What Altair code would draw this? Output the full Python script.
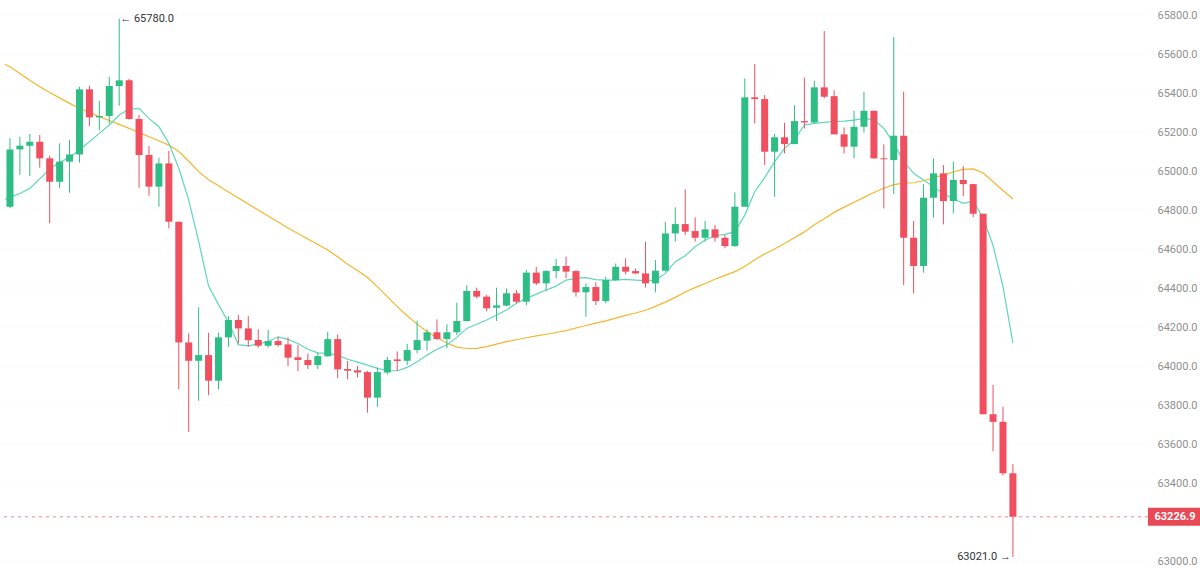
import altair as alt
import pandas as pd

opens = [64817, 65111, 65130, 65150, 65065, 64945, 65048, 65085, 65419, 65275,
         65282, 65436, 65465, 65267, 65082, 64920, 65039, 64740, 64121, 64027,
         64056, 63925, 64147, 64236, 64193, 64133, 64104, 64128, 64111, 64045,
         64031, 64005, 64050, 64138, 63985, 63978, 63969, 63838, 63967, 64034,
         64027, 64082, 64130, 64173, 64139, 64173, 64231, 64385, 64356, 64299,
         64310, 64373, 64330, 64479, 64424, 64487, 64513, 64487, 64378, 64405,
         64333, 64441, 64509, 64487, 64475, 64424, 64489, 64680, 64728, 64692,
         64658, 64701, 64658, 64615, 64817, 65378, 65369, 65099, 65173, 65138,
         65256, 65249, 65429, 65384, 65188, 65125, 65227, 65309, 65065, 65056,
         65181, 64658, 64513, 64863, 64988, 64846, 64954, 64933, 64781, 63753,
         63714, 63450]
highs = [65168, 65176, 65190, 65185, 65079, 65142, 65159, 65432, 65438, 65359,
         65484, 65780, 65472, 65287, 65128, 65068, 65103, 64740, 64168, 64301,
         64171, 64171, 64256, 64262, 64256, 64188, 64185, 64150, 64147, 64108,
         64065, 64068, 64176, 64162, 64026, 64000, 63975, 63993, 64048, 64075,
         64113, 64233, 64188, 64239, 64214, 64325, 64415, 64402, 64364, 64402,
         64398, 64390, 64492, 64509, 64492, 64549, 64561, 64492, 64424, 64429,
         64458, 64526, 64552, 64500, 64638, 64544, 64740, 64814, 64906, 64762,
         64744, 64723, 64672, 64891, 65475, 65549, 65390, 65190, 65248, 65338,
         65479, 65463, 65718, 65415, 65224, 65309, 65407, 65309, 65137, 65687,
         65407, 64744, 64933, 65065, 65031, 65048, 65025, 64933, 64781, 63903,
         63792, 63497]
lows = [64809, 64980, 64974, 65017, 64732, 64911, 64889, 65043, 65231, 65210,
        65244, 65335, 65263, 64915, 64873, 64817, 64706, 63881, 63663, 63822,
        63851, 63880, 64099, 64116, 64099, 64094, 64094, 64099, 64000, 63974,
        63985, 63985, 64048, 63937, 63932, 63942, 63761, 63791, 63957, 63976,
        64005, 64065, 64079, 64133, 64091, 64159, 64227, 64347, 64282, 64231,
        64305, 64322, 64313, 64415, 64386, 64450, 64450, 64356, 64253, 64313,
        64321, 64438, 64470, 64472, 64403, 64378, 64484, 64638, 64672, 64638,
        64638, 64638, 64604, 64612, 64817, 65244, 65031, 64868, 65090, 65138,
        65219, 65244, 65373, 65188, 65090, 65065, 65197, 65062, 64808, 64882,
        64415, 64373, 64479, 64761, 64726, 64783, 64871, 64763, 63753, 63563,
        63439, 63021]
closes = [65111, 65130, 65150, 65065, 64945, 65048, 65085, 65419, 65275, 65282,
          65436, 65465, 65267, 65082, 64920, 65039, 64740, 64121, 64027, 64056,
          63925, 64147, 64236, 64193, 64133, 64104, 64128, 64108, 64043, 64031,
          64005, 64051, 64138, 63983, 63976, 63967, 63838, 63969, 64031, 64026,
          64082, 64133, 64173, 64139, 64173, 64231, 64385, 64356, 64296, 64311,
          64373, 64330, 64479, 64424, 64487, 64513, 64484, 64378, 64405, 64333,
          64441, 64509, 64484, 64475, 64424, 64489, 64680, 64728, 64689, 64658,
          64701, 64658, 64615, 64817, 65378, 65369, 65099, 65173, 65138, 65256,
          65249, 65429, 65381, 65188, 65125, 65227, 65309, 65065, 65060, 65181,
          64658, 64513, 64863, 64988, 64846, 64954, 64933, 64781, 63753, 63714,
          63450, 63226.9]
# moving averages, read at the left edge (-0.5) and then at every candle
ma_index = [-0.5] + list(range(102))
ma_fast = [64855,
           64866, 64885, 64911, 64960, 65010, 65045, 65070, 65108, 65150, 65193,
           65236, 65287, 65318, 65321, 65270, 65227, 65142, 65014, 64851, 64640,
           64410, 64315, 64225, 64110, 64103, 64113, 64125, 64150, 64137, 64116,
           64086, 64068, 64065, 64056, 64035, 64020, 64005, 63988, 63976, 63976,
           63993, 64022, 64056, 64086, 64108, 64147, 64193, 64214, 64236, 64262,
           64287, 64322, 64347, 64369, 64390, 64410, 64441, 64450, 64453, 64443,
           64441, 64441, 64444, 64441, 64438, 64441, 64475, 64535, 64566, 64612,
           64646, 64668, 64675, 64689, 64774, 64894, 64966, 65048, 65116, 65159,
           65236, 65244, 65249, 65254, 65256, 65261, 65270, 65262, 65219, 65142,
           65050, 64988, 64954, 64920, 64885, 64858, 64834, 64845, 64760, 64618,
           64407, 64118]
ma_slow = [65548,
           65535, 65500, 65466, 65432, 65403, 65375, 65347, 65322, 65300, 65279,
           65259, 65239, 65219, 65197, 65176, 65155, 65133, 65100, 65050, 64997,
           64955, 64925, 64893, 64862, 64831, 64800, 64769, 64739, 64708, 64680,
           64651, 64623, 64595, 64560, 64522, 64490, 64454, 64407, 64356, 64305,
           64258, 64215, 64176, 64146, 64118, 64097, 64090, 64091, 64100, 64112,
           64125, 64135, 64145, 64155, 64163, 64172, 64182, 64195, 64208, 64220,
           64232, 64246, 64260, 64272, 64286, 64306, 64328, 64352, 64380, 64402,
           64423, 64445, 64465, 64484, 64510, 64545, 64575, 64600, 64628, 64658,
           64688, 64725, 64755, 64788, 64815, 64840, 64865, 64890, 64912, 64930,
           64938, 64940, 64950, 64965, 64980, 64995, 65008, 65011, 64990, 64945,
           64900, 64857]
y_ticks = [63000, 63400, 63600, 63800, 64000, 64200, 64400, 64600,
           64800, 65000, 65200, 65400, 65600, 65800]
last_price = [63226.9]
high_mark = [{"i": 11, "v": 65780.0, "t": "\u2190 65780.0"}]
low_mark = [{"i": 101, "v": 63021.0, "t": "63021.0 \u2192"}]

UP = "#2ebd85"
DOWN = "#ef4f5e"
FONT = "Roboto"

df = pd.DataFrame({
    "i": list(range(len(opens))),
    "open": opens, "high": highs, "low": lows, "close": closes,
})
df["dir"] = ["up" if c >= o else "down" for o, c in zip(opens, closes)]
ma = pd.DataFrame({"i": ma_index, "fast": ma_fast, "slow": ma_slow})

xs = alt.Scale(domain=[-0.5, 114.1], nice=False, zero=False)
ys = alt.Scale(domain=[62867, 65877], nice=False, zero=False)
col = alt.Color("dir:N", scale=alt.Scale(domain=["up", "down"], range=[UP, DOWN]), legend=None)

base = alt.Chart(df)
X = alt.X("i:Q", scale=xs, axis=None)

grid = alt.Chart(pd.DataFrame({"v": y_ticks})).mark_rule(
    color="#f3f3f3", strokeWidth=1, strokeDash=[1, 3]
).encode(y=alt.Y("v:Q", scale=ys, axis=alt.Axis(
    orient="right", values=y_ticks, format=".1f", labelColor="#8f8f8f",
    labelFontSize=11, labelFont=FONT, domain=False, ticks=False, grid=False,
    labelPadding=9, title=None)))

wicks = base.mark_rule(strokeWidth=1).encode(
    x=X, y=alt.Y("low:Q", scale=ys), y2="high:Q", color=col)
bodies = base.mark_bar(width=7).encode(
    x=X, y=alt.Y("open:Q", scale=ys), y2="close:Q", color=col)

fast = alt.Chart(ma).mark_line(color="#5fd6bf", strokeWidth=1.2, clip=True).encode(
    x=X, y=alt.Y("fast:Q", scale=ys))
slow = alt.Chart(ma).mark_line(color="#f5b62e", strokeWidth=1.2, clip=True).encode(
    x=X, y=alt.Y("slow:Q", scale=ys))

pdf = pd.DataFrame({"p": last_price, "t": ["%.1f" % p for p in last_price]})
pline = alt.Chart(pdf).mark_rule(color="#f08894", strokeDash=[3, 4], strokeWidth=1).encode(
    y=alt.Y("p:Q", scale=ys))
pbox = alt.Chart(pdf).mark_tick(color="#e84957", thickness=18, size=52, opacity=1).encode(
    y=alt.Y("p:Q", scale=ys), x=alt.value(1174))
ptext = alt.Chart(pdf).mark_text(color="white", fontWeight="bold", fontSize=11, font=FONT,
                                 align="center", baseline="middle").encode(
    y=alt.Y("p:Q", scale=ys), x=alt.value(1175), text="t:N")

hi = alt.Chart(pd.DataFrame(high_mark)).mark_text(
    align="left", baseline="middle", dx=1, fontSize=11, font=FONT, color="#333333").encode(
    x=alt.X("i:Q", scale=xs), y=alt.Y("v:Q", scale=ys), text="t:N")
lo = alt.Chart(pd.DataFrame(low_mark)).mark_text(
    align="right", baseline="middle", dx=-2, fontSize=11, font=FONT, color="#333333").encode(
    x=alt.X("i:Q", scale=xs), y=alt.Y("v:Q", scale=ys), text="t:N")

chart = alt.layer(grid, slow, fast, wicks, bodies, pline, pbox, ptext, hi, lo).properties(
    width=1148, height=587,
    autosize=alt.AutoSizeParams(type="none"),
    padding={"left": 0, "top": 0, "right": 52, "bottom": 0},
    background="white",
).configure_view(stroke=None)

chart.save("out.html", embed_options={"renderer": "svg", "actions": False})
